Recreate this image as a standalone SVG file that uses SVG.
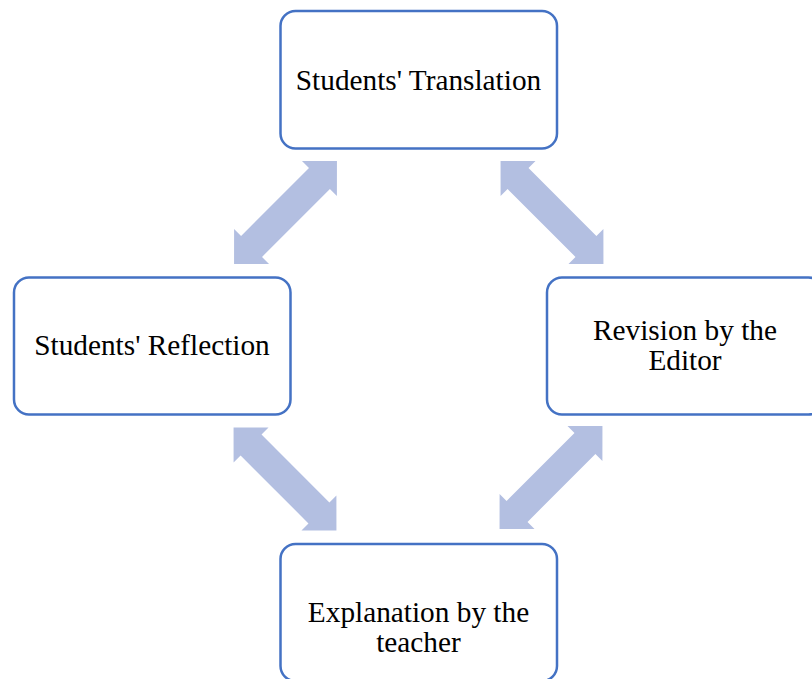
<svg xmlns="http://www.w3.org/2000/svg" width="812" height="679" viewBox="0 0 812 679">
<style>
.box{fill:#FFFFFF;stroke:#4472C4;stroke-width:2.5}
.lbl{font-family:"Liberation Serif","Times New Roman",serif;font-size:29.3px;fill:#000000;text-anchor:middle}
.arr{fill:#B3BFE1;stroke:none}
</style>
<defs>
<path id="dbl" d="M-72.75,0 L-48,-24.7 L-48,-14.8 L48,-14.8 L48,-24.7 L72.75,0 L48,24.7 L48,14.8 L-48,14.8 L-48,24.7 Z"/>
</defs>
<rect width="812" height="679" fill="#FFFFFF"/>
<g id="connectors">
<use href="#dbl" class="arr" transform="translate(285.5,212.5) rotate(-45)"/>
<use href="#dbl" class="arr" transform="translate(552,212.5) rotate(45)"/>
<use href="#dbl" class="arr" transform="translate(285,479) rotate(45)"/>
<use href="#dbl" class="arr" transform="translate(551,477.5) rotate(-45)"/>
</g>
<g id="node-translation">
<rect class="box" x="280.5" y="11" width="276.5" height="137.5" rx="15"/>
<text class="lbl" x="418.5" y="89.5">Students' Translation</text>
</g>
<g id="node-reflection">
<rect class="box" x="14" y="277.5" width="276.5" height="137" rx="15"/>
<text class="lbl" x="152" y="355">Students' Reflection</text>
</g>
<g id="node-revision">
<rect class="box" x="547" y="277.5" width="276.5" height="137" rx="15"/>
<text class="lbl" x="685" y="340">Revision by the</text>
<text class="lbl" x="685" y="370">Editor</text>
</g>
<g id="node-explanation">
<rect class="box" x="280.5" y="544" width="276.5" height="137" rx="15"/>
<text class="lbl" x="418.5" y="622">Explanation by the</text>
<text class="lbl" x="418.5" y="652">teacher</text>
</g>
</svg>
